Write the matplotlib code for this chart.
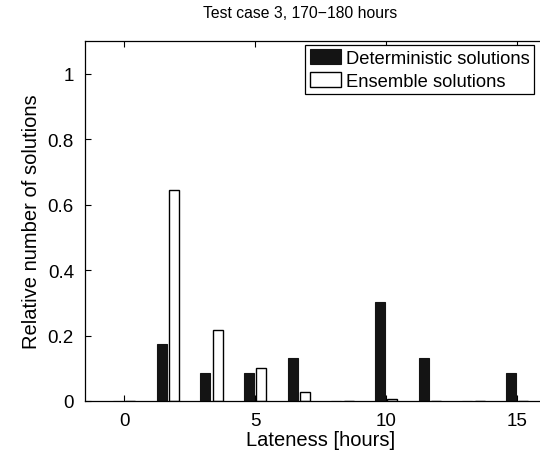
import matplotlib
matplotlib.use("Agg")
import matplotlib.pyplot as plt
import numpy as np

plt.rcParams['font.family'] = ['Liberation Sans', 'DejaVu Sans']

# lateness bins [hours] and relative share of solutions per bin
lateness = [0, 1.667, 3.333, 5, 6.667, 8.333, 10, 11.667, 13.333, 15]
deterministic = [0, 0.174, 0.087, 0.087, 0.130, 0, 0.304, 0.130, 0, 0.087]
ensemble = [0, 0.645, 0.218, 0.102, 0.027, 0, 0.005, 0, 0, 0]

x = np.array(lateness)
w = 0.38
off = 0.235

fig = plt.figure(figsize=(5.4, 4.6), dpi=100)
ax = fig.add_axes([85 / 540, 58 / 460, 471.6 / 540, 360 / 460])

ax.bar(x - off, deterministic, w, color='#141414', edgecolor='#141414', linewidth=0.8,
       label='Deterministic solutions')
ax.bar(x + off, ensemble, w, color='white', edgecolor='black', linewidth=1.0,
       label='Ensemble solutions')

ax.set_xlim(-1.5, 16.5)
ax.set_ylim(0, 1.1)
ax.set_xticks([0, 5, 10, 15])
ax.set_yticks([0, 0.2, 0.4, 0.6, 0.8, 1.0])
ax.set_yticklabels(['0', '0.2', '0.4', '0.6', '0.8', '1'])
ax.tick_params(direction='in', top=True, right=True, length=4, width=0.8,
               labelsize=13.5, pad=8)
for s in ax.spines.values():
    s.set_linewidth(0.9)

ax.set_xlabel('Lateness [hours]', fontsize=14.5, labelpad=1)
ax.set_ylabel('Relative number of solutions', fontsize=14.5, labelpad=5)
fig.text(300 / 540, 1 - 13 / 460, 'Test case 3, 170\u2212180 hours',
         ha='center', va='center', fontsize=11.3)

leg = ax.legend(loc='upper right', bbox_to_anchor=(534 / 540, 1 - 45.5 / 460),
                bbox_transform=fig.transFigure, borderaxespad=0, fontsize=13.2,
                fancybox=False, framealpha=1, edgecolor='black',
                handlelength=1.7, handleheight=0.9, handletextpad=0.25,
                labelspacing=0.25, borderpad=0.25)
leg.get_frame().set_linewidth(0.9)

fig.savefig('out.png', dpi=100)
